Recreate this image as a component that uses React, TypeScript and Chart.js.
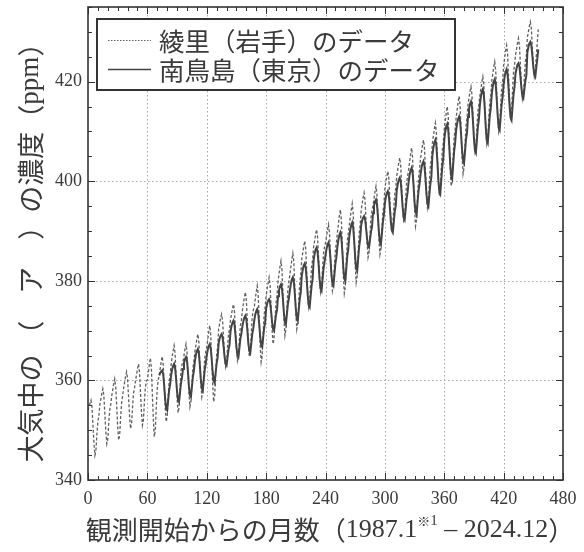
import React, { useEffect, useRef } from "react";
import { Chart, registerables } from "chart.js";

Chart.register(...registerables);

// ---- data -----------------------------------------------------------
const ryoriLabel = "綾里（岩手）のデータ";
const mnmLabel = "南鳥島（東京）のデータ";

// months counted from 1987.1 (= 0)
const ryoriStartMonth = 0;
const mnmStartMonth = 72;

// Ryori (Iwate), monthly, 1987.1 - 2024.12
const ryoriValues = [
  354.0, 354.8, 355.4, 356.0, 354.7, 351.0, 347.4, 345.0, 345.9, 349.2, 351.8, 352.9, // 1987
  355.2, 356.3, 357.4, 358.3, 357.0, 353.4, 349.7, 347.3, 348.2, 351.5, 354.1, 355.2, // 1988
  356.9, 358.1, 359.3, 360.3, 358.8, 354.8, 350.7, 348.0, 349.0, 352.7, 355.6, 356.9, // 1989
  358.5, 359.6, 360.8, 361.7, 360.3, 356.6, 352.8, 350.3, 351.2, 354.6, 357.4, 358.5, // 1990
  359.9, 361.1, 362.3, 363.3, 361.8, 357.8, 353.7, 351.0, 352.0, 355.7, 358.6, 359.9, // 1991
  360.1, 361.7, 363.2, 364.5, 362.6, 357.4, 352.2, 348.7, 350.0, 354.7, 358.5, 360.1, // 1992
  361.1, 362.4, 363.8, 364.8, 363.2, 358.9, 354.6, 351.7, 352.7, 356.7, 359.8, 361.1, // 1993
  363.2, 364.6, 365.9, 367.0, 365.4, 360.9, 356.5, 353.5, 354.6, 358.6, 361.9, 363.2, // 1994
  363.8, 365.0, 366.3, 367.3, 365.8, 361.6, 357.5, 354.7, 355.7, 359.5, 362.5, 363.8, // 1995
  365.8, 367.0, 368.3, 369.3, 367.8, 363.6, 359.5, 356.7, 357.7, 361.5, 364.5, 365.8, // 1996
  366.7, 368.2, 369.8, 371.0, 369.2, 364.1, 359.1, 355.7, 356.9, 361.5, 365.2, 366.7, // 1997
  370.3, 371.4, 372.5, 373.3, 372.0, 368.5, 365.0, 362.7, 363.5, 366.7, 369.3, 370.3, // 1998
  372.1, 373.3, 374.4, 375.3, 373.9, 370.2, 366.5, 364.0, 364.9, 368.3, 371.0, 372.1, // 1999
  374.1, 375.4, 376.7, 377.7, 376.1, 371.9, 367.6, 364.7, 365.7, 369.6, 372.8, 374.1, // 2000
  374.7, 376.2, 377.8, 379.0, 377.2, 372.1, 367.1, 363.7, 364.9, 369.5, 373.2, 374.7, // 2001
  377.0, 378.3, 379.6, 380.7, 379.1, 374.7, 370.3, 367.3, 368.4, 372.4, 375.6, 377.0, // 2002
  379.8, 381.3, 382.8, 384.0, 382.2, 377.3, 372.3, 369.0, 370.2, 374.7, 378.3, 379.8, // 2003
  381.2, 382.8, 384.3, 385.5, 383.7, 378.7, 373.6, 370.3, 371.5, 376.1, 379.7, 381.2, // 2004
  384.3, 385.6, 386.9, 388.0, 386.4, 382.0, 377.6, 374.7, 375.8, 379.8, 382.9, 384.3, // 2005
  386.8, 388.0, 389.3, 390.3, 388.8, 384.6, 380.5, 377.7, 378.7, 382.5, 385.5, 386.8, // 2006
  387.6, 388.9, 390.2, 391.3, 389.7, 385.3, 380.9, 378.0, 379.1, 383.1, 386.2, 387.6, // 2007
  389.6, 391.3, 393.0, 394.3, 392.3, 386.7, 381.2, 377.5, 378.8, 383.9, 387.9, 389.6, // 2008
  391.1, 392.7, 394.2, 395.5, 393.6, 388.4, 383.2, 379.7, 381.0, 385.7, 389.5, 391.1, // 2009
  394.1, 395.4, 396.7, 397.7, 396.1, 391.9, 387.6, 384.7, 385.7, 389.6, 392.8, 394.1, // 2010
  395.2, 396.5, 397.9, 399.0, 397.4, 392.8, 388.3, 385.3, 386.4, 390.5, 393.8, 395.2, // 2011
  398.6, 399.8, 401.0, 402.0, 400.6, 396.6, 392.6, 390.0, 391.0, 394.6, 397.4, 398.6, // 2012
  401.1, 402.4, 403.7, 404.7, 403.1, 398.9, 394.6, 391.7, 392.7, 396.6, 399.8, 401.1, // 2013
  402.3, 403.9, 405.4, 406.7, 404.8, 399.6, 394.5, 391.0, 392.3, 397.0, 400.7, 402.3, // 2014
  404.5, 405.9, 407.2, 408.3, 406.7, 402.2, 397.7, 394.7, 395.8, 399.9, 403.1, 404.5, // 2015
  407.6, 409.1, 410.5, 411.7, 409.9, 405.1, 400.2, 397.0, 398.2, 402.6, 406.1, 407.6, // 2016
  410.5, 412.1, 413.7, 415.0, 413.1, 407.8, 402.5, 399.0, 400.3, 405.1, 408.9, 410.5, // 2017
  412.7, 414.3, 415.9, 417.1, 415.2, 410.1, 404.9, 401.5, 402.7, 407.4, 411.2, 412.7, // 2018
  415.4, 416.7, 418.0, 419.0, 417.4, 413.2, 408.9, 406.0, 407.0, 410.9, 414.1, 415.4, // 2019
  417.2, 418.6, 419.9, 421.0, 419.4, 414.9, 410.5, 407.5, 408.6, 412.6, 415.9, 417.2, // 2020
  420.1, 421.5, 422.9, 424.0, 422.3, 417.7, 413.1, 410.0, 411.1, 415.3, 418.7, 420.1, // 2021
  423.3, 424.7, 426.2, 427.3, 425.6, 420.9, 416.1, 413.0, 414.1, 418.4, 421.9, 423.3, // 2022
  425.3, 426.5, 427.7, 428.7, 427.2, 423.2, 419.2, 416.5, 417.5, 421.1, 424.1, 425.3, // 2023
  428.9, 430.0, 431.1, 432.0, 430.7, 427.0, 423.4, 421.0, 421.9, 425.2, 427.8, 430.5, // 2024
];

// Minamitorishima (Tokyo), monthly, 1993.1 - 2024.12
const mnmValues = [
  361.0, 361.5, 361.8, 362.0, 361.2, 359.0, 356.2, 354.4, 354.0, 356.0, 358.0, 359.2, // 1993
  361.0, 362.2, 362.9, 363.3, 362.5, 360.4, 357.8, 356.1, 355.7, 357.6, 359.5, 360.6, // 1994
  362.3, 363.5, 364.3, 364.7, 363.9, 361.7, 358.9, 357.1, 356.7, 358.7, 360.7, 361.9, // 1995
  363.8, 365.1, 365.9, 366.3, 365.5, 363.1, 360.3, 358.4, 358.0, 360.1, 362.2, 363.4, // 1996
  365.0, 366.1, 366.9, 367.3, 366.5, 364.3, 361.7, 359.9, 359.5, 361.5, 363.4, 364.6, // 1997
  367.4, 368.4, 369.0, 369.3, 368.7, 366.9, 364.8, 363.3, 363.0, 364.6, 366.2, 367.1, // 1998
  369.8, 370.9, 371.6, 372.0, 371.3, 369.2, 366.7, 365.1, 364.7, 366.5, 368.4, 369.4, // 1999
  370.8, 371.9, 372.6, 373.0, 372.3, 370.2, 367.6, 365.9, 365.5, 367.4, 369.3, 370.4, // 2000
  372.0, 373.2, 373.9, 374.3, 373.5, 371.4, 368.8, 367.1, 366.7, 368.6, 370.5, 371.6, // 2001
  374.4, 375.4, 376.0, 376.3, 375.7, 373.9, 371.8, 370.3, 370.0, 371.6, 373.2, 374.1, // 2002
  376.9, 378.1, 378.9, 379.3, 378.5, 376.3, 373.5, 371.7, 371.3, 373.3, 375.3, 376.5, // 2003
  378.1, 379.4, 380.3, 380.7, 379.8, 377.4, 374.4, 372.4, 372.0, 374.2, 376.4, 377.7, // 2004
  380.9, 382.2, 383.1, 383.5, 382.6, 380.2, 377.2, 375.1, 374.7, 376.9, 379.1, 380.4, // 2005
  384.1, 385.4, 386.3, 386.7, 385.8, 383.4, 380.4, 378.4, 378.0, 380.2, 382.4, 383.7, // 2006
  385.1, 386.4, 387.3, 387.7, 386.8, 384.4, 381.4, 379.4, 379.0, 381.2, 383.4, 384.7, // 2007
  386.8, 388.2, 389.2, 389.7, 388.7, 386.0, 382.7, 380.5, 380.0, 382.4, 384.9, 386.3, // 2008
  388.8, 390.2, 391.2, 391.7, 390.7, 388.0, 384.7, 382.5, 382.0, 384.4, 386.9, 388.3, // 2009
  391.1, 392.1, 392.7, 393.0, 392.4, 390.6, 388.5, 387.0, 386.7, 388.3, 389.9, 390.8, // 2010
  393.6, 395.0, 395.9, 396.3, 395.4, 392.9, 389.8, 387.8, 387.3, 389.6, 391.8, 393.2, // 2011
  395.5, 396.8, 397.6, 398.0, 397.2, 394.8, 392.0, 390.1, 389.7, 391.8, 393.9, 395.1, // 2012
  398.2, 399.4, 400.3, 400.7, 399.9, 397.5, 394.7, 392.7, 392.3, 394.4, 396.5, 397.8, // 2013
  399.9, 401.3, 402.2, 402.7, 401.8, 399.1, 395.9, 393.8, 393.3, 395.7, 398.0, 399.4, // 2014
  401.3, 402.7, 403.6, 404.0, 403.1, 400.6, 397.5, 395.5, 395.0, 397.3, 399.5, 400.9, // 2015
  405.1, 406.7, 407.8, 408.3, 407.2, 404.2, 400.5, 398.0, 397.5, 400.2, 402.9, 404.5, // 2016
  408.2, 409.9, 411.0, 411.5, 410.4, 407.3, 403.6, 401.1, 400.5, 403.3, 406.0, 407.7, // 2017
  410.2, 411.6, 412.5, 413.0, 412.1, 409.5, 406.3, 404.2, 403.7, 406.0, 408.4, 409.7, // 2018
  412.9, 414.5, 415.5, 416.0, 415.0, 412.1, 408.6, 406.2, 405.7, 408.3, 410.9, 412.4, // 2019
  415.3, 416.9, 418.0, 418.5, 417.4, 414.4, 410.7, 408.2, 407.7, 410.4, 413.1, 414.7, // 2020
  417.4, 419.0, 420.0, 420.5, 419.5, 416.6, 413.2, 410.8, 410.3, 412.9, 415.4, 416.9, // 2021
  419.4, 421.0, 422.0, 422.5, 421.5, 418.6, 415.2, 412.8, 412.3, 414.9, 417.4, 418.9, // 2022
  421.6, 422.6, 423.4, 423.7, 423.0, 421.0, 418.7, 417.1, 416.7, 418.5, 420.2, 421.3, // 2023
  425.9, 426.9, 427.7, 428.0, 427.3, 425.3, 423.0, 421.4, 421.0, 422.8, 424.5, 426.5, // 2024
];

const xTickValues = [0, 60, 120, 180, 240, 300, 360, 420, 480];
const yTickValues = [340, 360, 380, 400, 420];
const xRange = [0, 480];
const yRange = [340, 435];
const xMinorStep = 10;
const yMinorStep = 5;

const yTitleParts = [
  { t: "大気中の\u2005（　ア　）の濃度（", f: "cjk" },
  { t: "ppm", f: "serif" },
  { t: "）", f: "cjk" },
];
const xTitleParts = [
  { t: "観測開始からの月数（", f: "cjk" },
  { t: "1987.1", f: "serif" },
  { t: "※", f: "cjkSup" },
  { t: "1", f: "serifSup" },
  { t: " – 2024.12", f: "serif" },
  { t: "）", f: "cjk" },
];

// ---- styling --------------------------------------------------------
const INK = "#3a3a3a";
const CJK = '"Noto Sans CJK JP", "Noto Sans CJK SC", sans-serif';
const SERIF = '"Liberation Serif", "DejaVu Serif", serif';

function fontFor(kind: string, size: number) {
  switch (kind) {
    case "cjk":
      return `${size}px ${CJK}`;
    case "cjkSup":
      return `${Math.round(size * 0.5)}px ${CJK}`;
    case "serifSup":
      return `${Math.round(size * 0.56)}px ${SERIF}`;
    default:
      return `${size}px ${SERIF}`;
  }
}

function drawParts(ctx: CanvasRenderingContext2D, parts: { t: string; f: string }[], size: number, x0: number, centered: boolean) {
  let total = 0;
  for (const p of parts) {
    ctx.font = fontFor(p.f, size);
    total += ctx.measureText(p.t).width;
  }
  let x = centered ? x0 - total / 2 : x0;
  for (const p of parts) {
    ctx.font = fontFor(p.f, size);
    const dy = p.f === "cjkSup" || p.f === "serifSup" ? -size * 0.33 : 0;
    ctx.fillText(p.t, x, dy);
    x += ctx.measureText(p.t).width;
  }
}

const decorPlugin = {
  id: "decor",
  beforeDatasetsDraw(chart: any) {
    const { ctx, chartArea: a, scales } = chart;
    const xs = scales.x;
    const ys = scales.y;
    ctx.save();
    ctx.strokeStyle = "#a8a8a8";
    ctx.lineWidth = 1;
    ctx.setLineDash([1.5, 2.5]);
    for (const v of xTickValues) {
      if (v === xRange[0] || v === xRange[1]) continue;
      const px = Math.round(xs.getPixelForValue(v)) + 0.5;
      ctx.beginPath();
      ctx.moveTo(px, a.top);
      ctx.lineTo(px, a.bottom);
      ctx.stroke();
    }
    for (const v of yTickValues) {
      if (v === yRange[0] || v === yRange[1]) continue;
      const py = Math.round(ys.getPixelForValue(v)) + 0.5;
      ctx.beginPath();
      ctx.moveTo(a.left, py);
      ctx.lineTo(a.right, py);
      ctx.stroke();
    }
    ctx.restore();
  },
  afterDatasetsDraw(chart: any) {
    const { ctx, chartArea: a, scales } = chart;
    const xs = scales.x;
    const ys = scales.y;
    ctx.save();
    ctx.strokeStyle = "#333";
    ctx.setLineDash([]);
    // inward ticks
    ctx.lineWidth = 1;
    for (let v = xRange[0]; v <= xRange[1]; v += xMinorStep) {
      const major = xTickValues.includes(v);
      const len = major ? 7 : 4;
      const px = Math.round(xs.getPixelForValue(v)) + 0.5;
      ctx.beginPath();
      ctx.moveTo(px, a.bottom);
      ctx.lineTo(px, a.bottom - len);
      ctx.moveTo(px, a.top);
      ctx.lineTo(px, a.top + len);
      ctx.stroke();
    }
    for (let v = yRange[0]; v <= yRange[1]; v += yMinorStep) {
      const major = yTickValues.includes(v);
      const len = major ? 7 : 4;
      const py = Math.round(ys.getPixelForValue(v)) + 0.5;
      ctx.beginPath();
      ctx.moveTo(a.left, py);
      ctx.lineTo(a.left + len, py);
      ctx.moveTo(a.right, py);
      ctx.lineTo(a.right - len, py);
      ctx.stroke();
    }
    // frame
    ctx.lineWidth = 1.6;
    ctx.strokeRect(a.left, a.top, a.right - a.left, a.bottom - a.top);

    // legend
    const ds = chart.data.datasets;
    const ryoriDs = ds.find((d: any) => d.label === ryoriLabel);
    const mnmDs = ds.find((d: any) => d.label === mnmLabel);
    const bx = a.left + 9;
    const by = a.top + 12;
    const bw = 358;
    const bh = 71;
    ctx.fillStyle = "#fff";
    ctx.fillRect(bx, by, bw, bh);
    ctx.lineWidth = 2;
    ctx.strokeStyle = "#333";
    ctx.strokeRect(bx, by, bw, bh);
    const rows = [
      { d: ryoriDs, y: by + 21 },
      { d: mnmDs, y: by + 50 },
    ];
    for (const r of rows) {
      ctx.save();
      ctx.strokeStyle = r.d.borderColor;
      ctx.lineWidth = r.d === ryoriDs ? 1.2 : 1.6;
      ctx.setLineDash(r.d === ryoriDs ? [1.5, 1.5] : []);
      ctx.beginPath();
      ctx.moveTo(bx + 11, r.y + 0.5);
      ctx.lineTo(bx + 54, r.y + 0.5);
      ctx.stroke();
      ctx.restore();
      ctx.fillStyle = INK;
      ctx.font = `25.5px ${CJK}`;
      ctx.textBaseline = "middle";
      ctx.textAlign = "left";
      ctx.fillText(r.d.label, bx + 62, r.y + 1);
    }
    ctx.restore();
  },
  afterDraw(chart: any) {
    const { ctx } = chart;
    ctx.save();
    ctx.fillStyle = INK;
    ctx.textBaseline = "middle";
    ctx.textAlign = "left";
    // y title (rotated)
    ctx.save();
    ctx.translate(31, 246);
    ctx.rotate(-Math.PI / 2);
    drawParts(ctx, yTitleParts, 27, 0, true);
    ctx.restore();
    // x title
    ctx.save();
    ctx.translate(0, 530);
    drawParts(ctx, xTitleParts, 26, 330, true);
    ctx.restore();
    ctx.restore();
  },
};

export default function App() {
  const ref = useRef<HTMLCanvasElement>(null);

  useEffect(() => {
    if (!ref.current) return;
    const ryoriPoints = ryoriValues.map((v, i) => ({ x: ryoriStartMonth + i, y: v }));
    const mnmPoints = mnmValues.map((v, i) => ({ x: mnmStartMonth + i, y: v }));
    const tickFont = { family: SERIF, size: 18 };

    const chart = new Chart(ref.current, {
      type: "line",
      data: {
        datasets: [
          {
            label: ryoriLabel,
            data: ryoriPoints,
            borderColor: "#606060",
            borderWidth: 1.3,
            borderDash: [3, 2],
            pointRadius: 0,
            fill: false,
            tension: 0,
            order: 1,
          },
          {
            label: mnmLabel,
            data: mnmPoints,
            borderColor: "#444444",
            borderWidth: 2,
            pointRadius: 0,
            fill: false,
            tension: 0,
            order: 0,
          },
        ],
      },
      options: {
        animation: false,
        responsive: false,
        maintainAspectRatio: false,
        layout: { padding: { top: 7, right: 21, bottom: 0, left: 0 } },
        plugins: {
          legend: { display: false },
          tooltip: { enabled: false },
          title: { display: false },
        },
        scales: {
          x: {
            type: "linear",
            min: xRange[0],
            max: xRange[1],
            grid: { display: false, drawTicks: false },
            border: { display: false },
            ticks: {
              font: tickFont,
              color: INK,
              padding: 8,
              maxRotation: 0,
              autoSkip: false,
              includeBounds: false,
            },
            afterBuildTicks: (s: any) => {
              s.ticks = xTickValues.map((v) => ({ value: v }));
            },
            afterFit: (s: any) => {
              s.height = 72;
              s.paddingLeft = 0;
              s.paddingRight = 0;
            },
          },
          y: {
            type: "linear",
            min: yRange[0],
            max: yRange[1],
            grid: { display: false, drawTicks: false },
            border: { display: false },
            ticks: {
              font: tickFont,
              color: INK,
              padding: 6,
              autoSkip: false,
              includeBounds: false,
            },
            afterBuildTicks: (s: any) => {
              s.ticks = yTickValues.map((v) => ({ value: v }));
            },
            afterFit: (s: any) => {
              s.width = 88;
              s.paddingTop = 0;
              s.paddingBottom = 0;
            },
          },
        },
      },
      plugins: [decorPlugin],
    } as any);

    return () => chart.destroy();
  }, []);

  return (
    <div style={{ position: "absolute", left: 0, top: 0, width: 584, height: 552, background: "#fff" }}>
      <canvas ref={ref} width={584} height={552} style={{ display: "block", width: 584, height: 552 }} />
    </div>
  );
}
